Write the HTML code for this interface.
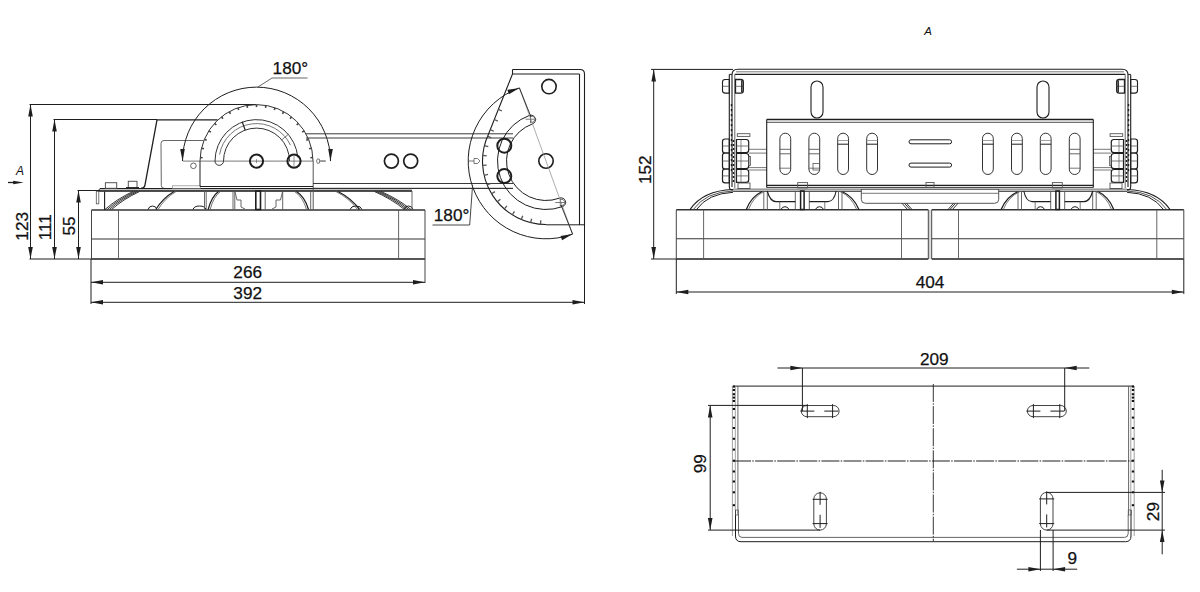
<!DOCTYPE html>
<html><head><meta charset="utf-8"><style>
html,body{margin:0;padding:0;background:#fff;}
svg{display:block;font-family:"Liberation Sans",sans-serif;}
</style></head><body>
<svg width="1200" height="592" viewBox="0 0 1200 592">
<rect width="1200" height="592" fill="#fff"/>
<line x1="30.5" y1="104.5" x2="30.5" y2="259" stroke="#1e1e1e" stroke-width="1" />
<polygon points="30.5,104.5 32.8,116.5 28.2,116.5" fill="#1e1e1e"/>
<polygon points="30.5,259 28.2,247 32.8,247" fill="#1e1e1e"/>
<line x1="54.5" y1="119.5" x2="54.5" y2="259" stroke="#1e1e1e" stroke-width="1" />
<polygon points="54.5,119.5 56.8,131.5 52.2,131.5" fill="#1e1e1e"/>
<polygon points="54.5,259 52.2,247 56.8,247" fill="#1e1e1e"/>
<line x1="78.5" y1="190.5" x2="78.5" y2="259" stroke="#1e1e1e" stroke-width="1" />
<polygon points="78.5,190.5 80.8,202.5 76.2,202.5" fill="#1e1e1e"/>
<polygon points="78.5,259 76.2,247 80.8,247" fill="#1e1e1e"/>
<line x1="29.5" y1="104.5" x2="256" y2="104.5" stroke="#1e1e1e" stroke-width="1" />
<line x1="53.5" y1="119.5" x2="157" y2="119.5" stroke="#1e1e1e" stroke-width="1" />
<line x1="77.5" y1="190.5" x2="100" y2="190.5" stroke="#1e1e1e" stroke-width="1" />
<line x1="29.5" y1="259" x2="92" y2="259" stroke="#1e1e1e" stroke-width="1" />
<text x="28" y="226.3" font-size="17.2" text-anchor="middle" fill="#111" stroke="#111" stroke-width="0.25" style="" transform="rotate(-90 28 226.3)">123</text>
<text x="51" y="227.2" font-size="17.2" text-anchor="middle" fill="#111" stroke="#111" stroke-width="0.25" style="" transform="rotate(-90 51 227.2)">111</text>
<text x="75" y="226" font-size="17.2" text-anchor="middle" fill="#111" stroke="#111" stroke-width="0.25" style="" transform="rotate(-90 75 226)">55</text>
<text x="16" y="174.7" font-size="12" text-anchor="start" fill="#111" stroke="#111" stroke-width="0" style="font-style:italic;">A</text>
<line x1="8" y1="182.5" x2="14" y2="182.5" stroke="#1e1e1e" stroke-width="1.3" />
<polygon points="23.7,182.5 13.2,184.3 13.2,180.7" fill="#1e1e1e"/>
<line x1="91.5" y1="210" x2="425" y2="210" stroke="#333" stroke-width="1.4" />
<line x1="91.5" y1="239" x2="425" y2="239" stroke="#333" stroke-width="1.1" />
<line x1="91.5" y1="259" x2="425" y2="259" stroke="#1e1e1e" stroke-width="1.4" />
<line x1="91.5" y1="210" x2="91.5" y2="259" stroke="#444" stroke-width="1" />
<line x1="425" y1="210" x2="425" y2="283" stroke="#444" stroke-width="1" />
<line x1="118.5" y1="210" x2="118.5" y2="259" stroke="#555" stroke-width="0.9" />
<line x1="398.6" y1="210" x2="398.6" y2="259" stroke="#555" stroke-width="0.9" />
<line x1="91" y1="259" x2="91" y2="304" stroke="#1e1e1e" stroke-width="1" />
<line x1="584.5" y1="225" x2="584.5" y2="304" stroke="#1e1e1e" stroke-width="1" />
<line x1="91" y1="282.3" x2="425" y2="282.3" stroke="#1e1e1e" stroke-width="1" />
<polygon points="91,282.3 103,280 103,284.6" fill="#1e1e1e"/>
<polygon points="425,282.3 413,284.6 413,280" fill="#1e1e1e"/>
<line x1="91" y1="302.3" x2="584.5" y2="302.3" stroke="#1e1e1e" stroke-width="1" />
<polygon points="91,302.3 103,300 103,304.6" fill="#1e1e1e"/>
<polygon points="584.5,302.3 572.5,304.6 572.5,300" fill="#1e1e1e"/>
<text x="247.7" y="278.4" font-size="17.2" text-anchor="middle" fill="#111" stroke="#111" stroke-width="0.25" style="">266</text>
<text x="247.7" y="298.8" font-size="17.2" text-anchor="middle" fill="#111" stroke="#111" stroke-width="0.25" style="">392</text>
<path d="M157 119.8 L217.6 119.8" stroke="#1e1e1e" stroke-width="1.2" fill="none" />
<path d="M157 119.8 L144.9 185.3 Q144.4 188.2 141 188.4" stroke="#1e1e1e" stroke-width="1.3" fill="none" />
<path d="M203.5 140.5 L164 140.5 Q161 140.5 161 143.5 L161.3 185.5 Q161.3 188.3 164.3 188.4" stroke="#555" stroke-width="0.9" fill="none" />
<circle cx="193.4" cy="165.8" r="2.8" stroke="#555" stroke-width="0.9" fill="none"/>
<rect x="100" y="188.5" width="312" height="3" rx="0" stroke="#1e1e1e" stroke-width="0" fill="#c4c4c4"/>
<line x1="100" y1="188.5" x2="513" y2="188.5" stroke="#1e1e1e" stroke-width="1.1" />
<line x1="98" y1="191" x2="412" y2="191" stroke="#1e1e1e" stroke-width="1.3" />
<path d="M98 191 L100 188.5" stroke="#1e1e1e" stroke-width="1" fill="none" />
<rect x="105.4" y="182.7" width="11.3" height="5.6" rx="0" stroke="#555" stroke-width="1" fill="none"/>
<rect x="128.3" y="181.3" width="8.7" height="7" rx="0" stroke="#555" stroke-width="1" fill="none"/>
<line x1="126" y1="188" x2="139" y2="188" stroke="#1e1e1e" stroke-width="1.8" />
<rect x="96.3" y="191.3" width="2.5" height="12.5" rx="0" stroke="#555" stroke-width="0.8" fill="none"/>
<line x1="104.6" y1="191.5" x2="104.6" y2="210" stroke="#1e1e1e" stroke-width="1.1" />
<rect x="172.5" y="185.8" width="28" height="2.5" rx="0" stroke="#8a8a8a" stroke-width="0.7" fill="none"/>
<path d="M200 161.1 A56.5 56.5 0 0 1 313 161.1" stroke="#333" stroke-width="1" fill="none" />
<line x1="200.11" y1="157.55" x2="202.61" y2="157.71" stroke="#444" stroke-width="1.6" />
<line x1="201.49" y1="148.2" x2="203.93" y2="148.77" stroke="#444" stroke-width="1.6" />
<line x1="204.41" y1="139.21" x2="206.72" y2="140.17" stroke="#444" stroke-width="1.6" />
<line x1="208.8" y1="130.83" x2="210.91" y2="132.17" stroke="#444" stroke-width="1.6" />
<line x1="214.51" y1="123.29" x2="216.37" y2="124.97" stroke="#444" stroke-width="1.6" />
<line x1="221.41" y1="116.82" x2="222.96" y2="118.78" stroke="#444" stroke-width="1.6" />
<line x1="229.28" y1="111.59" x2="230.49" y2="113.78" stroke="#444" stroke-width="1.6" />
<line x1="237.92" y1="107.74" x2="238.74" y2="110.1" stroke="#444" stroke-width="1.6" />
<line x1="247.08" y1="105.39" x2="247.49" y2="107.86" stroke="#444" stroke-width="1.6" />
<line x1="256.5" y1="104.6" x2="256.5" y2="107.1" stroke="#444" stroke-width="1.6" />
<line x1="265.92" y1="105.39" x2="265.51" y2="107.86" stroke="#444" stroke-width="1.6" />
<line x1="275.08" y1="107.74" x2="274.26" y2="110.1" stroke="#444" stroke-width="1.6" />
<line x1="283.72" y1="111.59" x2="282.51" y2="113.78" stroke="#444" stroke-width="1.6" />
<line x1="291.59" y1="116.82" x2="290.04" y2="118.78" stroke="#444" stroke-width="1.6" />
<line x1="298.49" y1="123.29" x2="296.63" y2="124.97" stroke="#444" stroke-width="1.6" />
<line x1="304.2" y1="130.83" x2="302.09" y2="132.17" stroke="#444" stroke-width="1.6" />
<line x1="308.59" y1="139.21" x2="306.28" y2="140.17" stroke="#444" stroke-width="1.6" />
<line x1="311.51" y1="148.2" x2="309.07" y2="148.77" stroke="#444" stroke-width="1.6" />
<line x1="312.89" y1="157.55" x2="310.39" y2="157.71" stroke="#444" stroke-width="1.6" />
<line x1="200" y1="161" x2="200" y2="186.5" stroke="#1e1e1e" stroke-width="1" />
<line x1="313.2" y1="161" x2="313.2" y2="210" stroke="#555" stroke-width="1" />
<line x1="200" y1="186.5" x2="313" y2="186.5" stroke="#1e1e1e" stroke-width="1" />
<line x1="183" y1="161.1" x2="313" y2="161.1" stroke="#555" stroke-width="0.8" />
<path d="M214.5 161.1 A42 42 0 0 1 298.5 161.1 A4.5 4.5 0 0 1 289.5 161.1" stroke="none" stroke-width="0.01" fill="none" />
<path d="M215 161.1 A41.5 41.5 0 0 1 297.84 157.48 M289.5 161.1 A33 33 0 0 0 223.5 161.1 A4.25 4.25 0 0 1 215 161.1" stroke="#333" stroke-width="1" fill="none" />
<path d="M219.57 154.59 A37.5 37.5 0 0 1 290.49 145.25" stroke="#555" stroke-width="0.8" fill="none" />
<line x1="245.21" y1="130.09" x2="242.14" y2="121.63" stroke="#1e1e1e" stroke-width="1.2" />
<line x1="281.78" y1="139.89" x2="288.67" y2="134.1" stroke="#555" stroke-width="0.8" />
<circle cx="256.5" cy="161.1" r="6.6" stroke="#1e1e1e" stroke-width="2" fill="none"/>
<circle cx="294" cy="161.1" r="6.6" stroke="#1e1e1e" stroke-width="2" fill="none"/>
<line x1="256.5" y1="159.1" x2="256.5" y2="163.1" stroke="#555" stroke-width="0.6" />
<line x1="294" y1="155.1" x2="294" y2="167.1" stroke="#555" stroke-width="0.6" />
<path d="M182.5 161.1 A74 74 0 0 1 330.5 161.1" stroke="#1e1e1e" stroke-width="1" fill="none" />
<polygon points="182.5,161.1 180.2,149.1 184.8,149.1" fill="#1e1e1e"/>
<polygon points="330.5,161.1 328.2,149.1 332.8,149.1" fill="#1e1e1e"/>
<polyline points="257.5,87.3 272,78 307.5,78" stroke="#555" stroke-width="0.9" fill="none"/>
<text x="272.6" y="73.6" font-size="17.2" text-anchor="start" fill="#111" stroke="#111" stroke-width="0.25" style="">180°</text>
<path d="M325.6 161.1 L319.5 161.1 M319.5 159.29999999999998 L317.5 158.79999999999998 Q315.5 161.1 317.5 163.4 L319.5 162.9 Z" stroke="#555" stroke-width="0.8" fill="none" />
<line x1="319.5" y1="161.1" x2="325.6" y2="161.1" stroke="#999" stroke-width="1.8" />
<line x1="306" y1="133.8" x2="513" y2="133.8" stroke="#3a3a3a" stroke-width="1" />
<line x1="306" y1="138" x2="513" y2="138" stroke="#3a3a3a" stroke-width="1" />
<line x1="313" y1="183.5" x2="513" y2="183.5" stroke="#3a3a3a" stroke-width="1" />
<line x1="313" y1="188.3" x2="513" y2="188.3" stroke="#3a3a3a" stroke-width="1" />
<circle cx="391.4" cy="161.1" r="7" stroke="#1e1e1e" stroke-width="1.7" fill="none"/>
<circle cx="410.7" cy="161.1" r="7" stroke="#1e1e1e" stroke-width="1.7" fill="none"/>
<path d="M105 209.5 Q116.76 199.06 133 191.5" stroke="#1e1e1e" stroke-width="0.9" fill="none" />
<path d="M107.2 209.5 Q118.96 199.06 135.2 191.5" stroke="#1e1e1e" stroke-width="0.9" fill="none" />
<path d="M109.4 209.5 Q121.16 199.06 137.4 191.5" stroke="#1e1e1e" stroke-width="0.9" fill="none" />
<path d="M111.6 209.5 Q123.36 199.06 139.6 191.5" stroke="#1e1e1e" stroke-width="0.9" fill="none" />
<path d="M155.8 209.5 Q162.72 198.34 174 191.5" stroke="#1e1e1e" stroke-width="1.2" fill="none" />
<path d="M158 209.5 Q164.84 198.34 176 191.5" stroke="#555" stroke-width="0.8" fill="none" />
<path d="M148 209.5 Q149 206 152.5 206 Q156 206 157 209.5" stroke="#1e1e1e" stroke-width="1" fill="none" />
<path d="M193 209.5 Q194 206 199.5 206 Q205 206 206 209.5" stroke="#1e1e1e" stroke-width="1" fill="none" />
<path d="M350 209.5 Q351 206 356 206 Q361 206 362 209.5" stroke="#1e1e1e" stroke-width="1" fill="none" />
<path d="M404 209.5 Q405 206 408.5 206 Q412 206 413 209.5" stroke="#1e1e1e" stroke-width="1" fill="none" />
<path d="M208.2 209.5 Q211.29 196.9 218.5 191.5" stroke="#1e1e1e" stroke-width="1.3" fill="none" />
<path d="M210.2 209.5 Q213.29 196.9 220.5 191.5" stroke="#555" stroke-width="0.8" fill="none" />
<path d="M308.5 209.5 Q304.9 196.9 296.5 191.5" stroke="#1e1e1e" stroke-width="1.3" fill="none" />
<path d="M306.5 209.5 Q302.9 196.9 294.5 191.5" stroke="#555" stroke-width="0.8" fill="none" />
<path d="M359.5 209.5 Q351.33 198.34 338 191.5" stroke="#1e1e1e" stroke-width="1.3" fill="none" />
<path d="M357.5 209.5 Q349.33 198.34 336 191.5" stroke="#555" stroke-width="0.8" fill="none" />
<path d="M411 209.5 Q398.4 199.06 381 191.5" stroke="#1e1e1e" stroke-width="0.9" fill="none" />
<path d="M408.8 209.5 Q396.2 199.06 378.8 191.5" stroke="#1e1e1e" stroke-width="0.9" fill="none" />
<path d="M406.6 209.5 Q394 199.06 376.6 191.5" stroke="#1e1e1e" stroke-width="0.9" fill="none" />
<path d="M404.4 209.5 Q391.8 199.06 374.4 191.5" stroke="#1e1e1e" stroke-width="0.9" fill="none" />
<line x1="204.5" y1="191" x2="204.5" y2="209.5" stroke="#555" stroke-width="0.9" />
<line x1="206.2" y1="191" x2="206.2" y2="209.5" stroke="#555" stroke-width="0.9" />
<line x1="233" y1="191" x2="233" y2="209.5" stroke="#555" stroke-width="0.9" />
<line x1="234.8" y1="191" x2="234.8" y2="209.5" stroke="#555" stroke-width="0.9" />
<line x1="265.2" y1="191" x2="265.2" y2="209.5" stroke="#555" stroke-width="0.9" />
<line x1="282.7" y1="191" x2="282.7" y2="209.5" stroke="#555" stroke-width="0.9" />
<line x1="310.7" y1="191" x2="310.7" y2="209.5" stroke="#555" stroke-width="0.9" />
<line x1="412" y1="191" x2="412" y2="209.5" stroke="#555" stroke-width="0.9" />
<rect x="255.8" y="191" width="4.7" height="18.5" rx="0" stroke="#1e1e1e" stroke-width="1.6" fill="none"/>
<path d="M234.8 191 L237 200 L241 200 L241 207 L245 209" stroke="#555" stroke-width="0.9" fill="none" />
<path d="M282.7 191 L280.5 200 L276 200 L276 207 L272 209" stroke="#555" stroke-width="0.9" fill="none" />
<path d="M512.5 69.5 L580 69.5 Q584.5 69.5 584.5 74" stroke="#1e1e1e" stroke-width="1.1" fill="none" />
<line x1="512.5" y1="74" x2="579.5" y2="74" stroke="#1e1e1e" stroke-width="1.1" />
<line x1="512.5" y1="69.5" x2="512.5" y2="74" stroke="#1e1e1e" stroke-width="1.1" />
<line x1="579.5" y1="74" x2="579.5" y2="225" stroke="#1e1e1e" stroke-width="1.1" />
<line x1="584.5" y1="74" x2="584.5" y2="226" stroke="#1e1e1e" stroke-width="1.1" />
<line x1="546" y1="224.8" x2="584.5" y2="224.8" stroke="#1e1e1e" stroke-width="1" />
<path d="M512.5 74 L488.22 134.67 A63.5 63.5 0 0 0 546 224.5" stroke="#1e1e1e" stroke-width="1.1" fill="none" />
<line x1="540.47" y1="224.26" x2="540.81" y2="220.27" stroke="#555" stroke-width="1.3" />
<line x1="530.64" y1="222.61" x2="531.61" y2="218.73" stroke="#555" stroke-width="1.3" />
<line x1="521.19" y1="219.45" x2="522.75" y2="215.77" stroke="#555" stroke-width="1.3" />
<line x1="512.35" y1="214.85" x2="514.47" y2="211.46" stroke="#555" stroke-width="1.3" />
<line x1="504.34" y1="208.92" x2="506.96" y2="205.91" stroke="#555" stroke-width="1.3" />
<line x1="497.36" y1="201.82" x2="500.42" y2="199.25" stroke="#555" stroke-width="1.3" />
<line x1="491.57" y1="193.7" x2="495" y2="191.64" stroke="#555" stroke-width="1.3" />
<line x1="487.12" y1="184.79" x2="490.83" y2="183.29" stroke="#555" stroke-width="1.3" />
<line x1="484.13" y1="175.28" x2="488.02" y2="174.38" stroke="#555" stroke-width="1.3" />
<line x1="482.65" y1="165.43" x2="486.64" y2="165.15" stroke="#555" stroke-width="1.3" />
<line x1="482.74" y1="155.47" x2="486.73" y2="155.81" stroke="#555" stroke-width="1.3" />
<line x1="484.39" y1="145.64" x2="488.27" y2="146.61" stroke="#555" stroke-width="1.3" />
<line x1="487.55" y1="136.19" x2="491.23" y2="137.75" stroke="#555" stroke-width="1.3" />
<line x1="498.34" y1="109.37" x2="501.94" y2="110.97" stroke="#555" stroke-width="1.3" />
<line x1="494.29" y1="119.5" x2="497.89" y2="121.1" stroke="#555" stroke-width="1.3" />
<line x1="490.23" y1="129.63" x2="493.83" y2="131.23" stroke="#555" stroke-width="1.3" />
<path d="M529.41 115.42 A48.5 48.5 0 0 0 562.59 206.58 A4.5 4.5 0 0 0 559.51 198.12 A39.5 39.5 0 0 1 532.49 123.88 A4.5 4.5 0 0 0 529.41 115.42" stroke="#1e1e1e" stroke-width="1" fill="none" />
<line x1="525.5" y1="119.2" x2="535.5" y2="119.2" stroke="#555" stroke-width="0.8" />
<line x1="530.5" y1="115.2" x2="530.5" y2="123.2" stroke="#555" stroke-width="0.8" />
<path d="M530.5 116.2 L533 116.2 L536 119.2 L533 122.2 L530.5 122.2" stroke="#555" stroke-width="0.8" fill="none" />
<line x1="555.3" y1="202.5" x2="565.3" y2="202.5" stroke="#555" stroke-width="0.8" />
<line x1="560.3" y1="198.5" x2="560.3" y2="206.5" stroke="#555" stroke-width="0.8" />
<path d="M560.3 199.5 L562.8 199.5 L565.8 202.5 L562.8 205.5 L560.3 205.5" stroke="#555" stroke-width="0.8" fill="none" />
<circle cx="504.3" cy="145.7" r="7" stroke="#1e1e1e" stroke-width="2" fill="none"/>
<circle cx="504.3" cy="176.1" r="7" stroke="#1e1e1e" stroke-width="2" fill="none"/>
<circle cx="546" cy="161" r="7.2" stroke="#1e1e1e" stroke-width="1.6" fill="none"/>
<circle cx="549" cy="86.6" r="7.2" stroke="#1e1e1e" stroke-width="1.6" fill="none"/>
<path d="M519.39 87.89 A77.8 77.8 0 0 0 572.61 234.11" stroke="#1e1e1e" stroke-width="1" fill="none" />
<polygon points="519.39,87.89 508.9,94.16 507.33,89.83" fill="#1e1e1e"/>
<polygon points="572.61,234.11 562.12,240.37 560.55,236.05" fill="#1e1e1e"/>
<line x1="519.39" y1="87.89" x2="572.61" y2="234.11" stroke="#8a8a8a" stroke-width="0.7" />
<line x1="519.39" y1="87.89" x2="531" y2="117" stroke="#1e1e1e" stroke-width="0.9" />
<line x1="561" y1="205" x2="572.61" y2="234.11" stroke="#1e1e1e" stroke-width="0.9" />
<line x1="468" y1="161" x2="474" y2="161" stroke="#555" stroke-width="0.8" />
<path d="M474 158.5 L477.5 158.5 L480 161 L477.5 163.5 L474 163.5 Z" stroke="#555" stroke-width="0.8" fill="none" />
<polyline points="432.5,225 469.7,225 472.6,185" stroke="#333" stroke-width="0.9" fill="none"/>
<text x="451.6" y="221.3" font-size="17.2" text-anchor="middle" fill="#111" stroke="#111" stroke-width="0.25" style="">180°</text>
<line x1="653.7" y1="69.5" x2="653.7" y2="259" stroke="#1e1e1e" stroke-width="1" />
<polygon points="653.7,69.5 656,81.5 651.4,81.5" fill="#1e1e1e"/>
<polygon points="653.7,259 651.4,247 656,247" fill="#1e1e1e"/>
<line x1="651" y1="69.4" x2="733" y2="69.4" stroke="#1e1e1e" stroke-width="1" />
<line x1="651" y1="259" x2="677" y2="259" stroke="#1e1e1e" stroke-width="1" />
<text x="651" y="169.7" font-size="17.2" text-anchor="middle" fill="#111" stroke="#111" stroke-width="0.25" style="" transform="rotate(-90 651 169.7)">152</text>
<line x1="676.3" y1="259" x2="676.3" y2="294" stroke="#1e1e1e" stroke-width="1" />
<line x1="1183.8" y1="259" x2="1183.8" y2="294" stroke="#1e1e1e" stroke-width="1" />
<line x1="676.3" y1="292" x2="1183.8" y2="292" stroke="#1e1e1e" stroke-width="1" />
<polygon points="676.3,292 688.3,289.7 688.3,294.3" fill="#1e1e1e"/>
<polygon points="1183.8,292 1171.8,294.3 1171.8,289.7" fill="#1e1e1e"/>
<text x="930" y="287.8" font-size="17.2" text-anchor="middle" fill="#111" stroke="#111" stroke-width="0.25" style="">404</text>
<line x1="676.3" y1="209.8" x2="928.3" y2="209.8" stroke="#333" stroke-width="1.4" />
<line x1="676.3" y1="238.8" x2="928.3" y2="238.8" stroke="#333" stroke-width="1.1" />
<line x1="676.3" y1="259" x2="928.3" y2="259" stroke="#1e1e1e" stroke-width="1.4" />
<line x1="676.3" y1="209.8" x2="676.3" y2="259" stroke="#444" stroke-width="1" />
<line x1="928.3" y1="209.8" x2="928.3" y2="259" stroke="#444" stroke-width="1" />
<line x1="931.7" y1="209.8" x2="1183.8" y2="209.8" stroke="#333" stroke-width="1.4" />
<line x1="931.7" y1="238.8" x2="1183.8" y2="238.8" stroke="#333" stroke-width="1.1" />
<line x1="931.7" y1="259" x2="1183.8" y2="259" stroke="#1e1e1e" stroke-width="1.4" />
<line x1="931.7" y1="209.8" x2="931.7" y2="259" stroke="#444" stroke-width="1" />
<line x1="1183.8" y1="209.8" x2="1183.8" y2="259" stroke="#444" stroke-width="1" />
<line x1="703.6" y1="209.8" x2="703.6" y2="259" stroke="#555" stroke-width="0.9" />
<line x1="901.5" y1="209.8" x2="901.5" y2="259" stroke="#555" stroke-width="0.9" />
<line x1="958.5" y1="209.8" x2="958.5" y2="259" stroke="#555" stroke-width="0.9" />
<line x1="1156.8" y1="209.8" x2="1156.8" y2="259" stroke="#555" stroke-width="0.9" />
<line x1="929.9" y1="209.8" x2="929.9" y2="259" stroke="#8a8a8a" stroke-width="0.7" />
<path d="M930 69.3 L737.8 69.3 Q732 69.3 732 75 L732 187" stroke="#1e1e1e" stroke-width="1.1" fill="none" />
<path d="M729.3 74.4 L729.3 186.5 Q729.3 190.3 733.5 190.3" stroke="#1e1e1e" stroke-width="1.1" fill="none" />
<line x1="729.3" y1="74.4" x2="732" y2="74.4" stroke="#1e1e1e" stroke-width="1" />
<line x1="734.8" y1="74.4" x2="930" y2="74.4" stroke="#1e1e1e" stroke-width="1.1" />
<line x1="734.8" y1="74.4" x2="734.8" y2="188" stroke="#555" stroke-width="0.9" />
<line x1="736" y1="71.8" x2="930" y2="71.8" stroke="#555" stroke-width="0.8" />
<line x1="731.5" y1="104" x2="731.5" y2="106.2" stroke="#1e1e1e" stroke-width="1.4" />
<line x1="731.5" y1="109" x2="731.5" y2="111.2" stroke="#1e1e1e" stroke-width="1.4" />
<line x1="731.5" y1="114" x2="731.5" y2="116.2" stroke="#1e1e1e" stroke-width="1.4" />
<line x1="731.5" y1="119" x2="731.5" y2="121.2" stroke="#1e1e1e" stroke-width="1.4" />
<line x1="731.5" y1="124" x2="731.5" y2="126.2" stroke="#1e1e1e" stroke-width="1.4" />
<line x1="731.5" y1="129" x2="731.5" y2="131.2" stroke="#1e1e1e" stroke-width="1.4" />
<line x1="731.5" y1="134" x2="731.5" y2="136.2" stroke="#1e1e1e" stroke-width="1.4" />
<line x1="731.5" y1="139" x2="731.5" y2="141.2" stroke="#1e1e1e" stroke-width="1.4" />
<line x1="731.5" y1="144" x2="731.5" y2="146.2" stroke="#1e1e1e" stroke-width="1.4" />
<line x1="731.5" y1="149" x2="731.5" y2="151.2" stroke="#1e1e1e" stroke-width="1.4" />
<line x1="731.5" y1="154" x2="731.5" y2="156.2" stroke="#1e1e1e" stroke-width="1.4" />
<line x1="731.5" y1="159" x2="731.5" y2="161.2" stroke="#1e1e1e" stroke-width="1.4" />
<line x1="731.5" y1="164" x2="731.5" y2="166.2" stroke="#1e1e1e" stroke-width="1.4" />
<line x1="731.5" y1="169" x2="731.5" y2="171.2" stroke="#1e1e1e" stroke-width="1.4" />
<rect x="811" y="81" width="12" height="37" rx="6" stroke="#1e1e1e" stroke-width="1.1" fill="none"/>
<path d="M729.3 79.5 L725.1 79.5 Q722.5 79.5 722.5 82.1 L722.5 90.5 Q722.5 93.1 725.1 93.1 L729.3 93.1 Z" stroke="#1e1e1e" stroke-width="1.1" fill="none" />
<line x1="722.5" y1="86.3" x2="729.3" y2="86.3" stroke="#555" stroke-width="0.8" />
<path d="M735.5 79.5 L740.7 79.5 Q743.3 79.5 743.3 82.1 L743.3 90.5 Q743.3 93.1 740.7 93.1 L735.5 93.1 Z" stroke="#1e1e1e" stroke-width="1.3" fill="none" />
<line x1="735.5" y1="86.3" x2="743.3" y2="86.3" stroke="#555" stroke-width="0.8" />
<line x1="741.8" y1="80.5" x2="741.8" y2="92" stroke="#1e1e1e" stroke-width="1.4" />
<path d="M729.3 139 L725.1 139 Q722.5 139 722.5 141.6 L722.5 150.4 Q722.5 153 725.1 153 L729.3 153 Z" stroke="#1e1e1e" stroke-width="1.2" fill="none" />
<line x1="722.5" y1="146" x2="729.3" y2="146" stroke="#555" stroke-width="0.8" />
<path d="M736.5 139.5 L746.1 139.5 Q748.7 139.5 748.7 142.1 L748.7 149.9 Q748.7 152.5 746.1 152.5 L736.5 152.5 Z" stroke="#1e1e1e" stroke-width="1.2" fill="none" />
<line x1="736.5" y1="146" x2="748.7" y2="146" stroke="#555" stroke-width="0.8" />
<line x1="741" y1="140" x2="741" y2="152" stroke="#555" stroke-width="0.7" />
<path d="M729.3 153 L725.1 153 Q722.5 153 722.5 155.6 L722.5 166.4 Q722.5 169 725.1 169 L729.3 169 Z" stroke="#1e1e1e" stroke-width="1.2" fill="none" />
<line x1="722.5" y1="161" x2="729.3" y2="161" stroke="#555" stroke-width="0.8" />
<path d="M736.5 153.5 L746.1 153.5 Q748.7 153.5 748.7 156.1 L748.7 165.9 Q748.7 168.5 746.1 168.5 L736.5 168.5 Z" stroke="#1e1e1e" stroke-width="1.2" fill="none" />
<line x1="736.5" y1="161" x2="748.7" y2="161" stroke="#555" stroke-width="0.8" />
<line x1="741" y1="154" x2="741" y2="168" stroke="#555" stroke-width="0.7" />
<path d="M729.3 169 L725.1 169 Q722.5 169 722.5 171.6 L722.5 180.2 Q722.5 182.8 725.1 182.8 L729.3 182.8 Z" stroke="#1e1e1e" stroke-width="1.2" fill="none" />
<line x1="722.5" y1="175.9" x2="729.3" y2="175.9" stroke="#555" stroke-width="0.8" />
<path d="M736.5 169.5 L746.1 169.5 Q748.7 169.5 748.7 172.1 L748.7 179.7 Q748.7 182.3 746.1 182.3 L736.5 182.3 Z" stroke="#1e1e1e" stroke-width="1.2" fill="none" />
<line x1="736.5" y1="175.9" x2="748.7" y2="175.9" stroke="#555" stroke-width="0.8" />
<line x1="741" y1="170" x2="741" y2="181.8" stroke="#555" stroke-width="0.7" />
<rect x="748.7" y="156.5" width="1.8" height="9" rx="0" stroke="#555" stroke-width="0.8" fill="none"/>
<line x1="733.5" y1="140" x2="733.5" y2="142" stroke="#1e1e1e" stroke-width="1.5" />
<line x1="733.5" y1="144" x2="733.5" y2="146" stroke="#1e1e1e" stroke-width="1.5" />
<line x1="733.5" y1="148" x2="733.5" y2="150" stroke="#1e1e1e" stroke-width="1.5" />
<line x1="733.5" y1="152" x2="733.5" y2="154" stroke="#1e1e1e" stroke-width="1.5" />
<line x1="733.5" y1="156" x2="733.5" y2="158" stroke="#1e1e1e" stroke-width="1.5" />
<line x1="733.5" y1="160" x2="733.5" y2="162" stroke="#1e1e1e" stroke-width="1.5" />
<line x1="733.5" y1="164" x2="733.5" y2="166" stroke="#1e1e1e" stroke-width="1.5" />
<line x1="733.5" y1="168" x2="733.5" y2="170" stroke="#1e1e1e" stroke-width="1.5" />
<line x1="733.5" y1="172" x2="733.5" y2="174" stroke="#1e1e1e" stroke-width="1.5" />
<line x1="733.5" y1="176" x2="733.5" y2="178" stroke="#1e1e1e" stroke-width="1.5" />
<line x1="733.5" y1="180" x2="733.5" y2="182" stroke="#1e1e1e" stroke-width="1.5" />
<rect x="737.3" y="133.7" width="12.6" height="2.7" rx="0" stroke="#555" stroke-width="0.9" fill="none"/>
<rect x="738" y="183" width="12" height="5.5" rx="0" stroke="#555" stroke-width="0.9" fill="none"/>
<line x1="749" y1="149.3" x2="766.7" y2="149.3" stroke="#555" stroke-width="0.8" />
<line x1="749" y1="153.1" x2="766.7" y2="153.1" stroke="#555" stroke-width="0.8" />
<line x1="749" y1="167.6" x2="766.7" y2="167.6" stroke="#555" stroke-width="0.8" />
<line x1="749" y1="170" x2="766.7" y2="170" stroke="#555" stroke-width="0.8" />
<line x1="766.7" y1="119.5" x2="930" y2="119.5" stroke="#1e1e1e" stroke-width="1.3" />
<line x1="766.7" y1="122.3" x2="930" y2="122.3" stroke="#1e1e1e" stroke-width="0.8" />
<line x1="766.7" y1="185.3" x2="930" y2="185.3" stroke="#1e1e1e" stroke-width="1.2" />
<line x1="766.7" y1="187.4" x2="930" y2="187.4" stroke="#1e1e1e" stroke-width="0.9" />
<line x1="766.7" y1="119.5" x2="766.7" y2="187.4" stroke="#1e1e1e" stroke-width="1.1" />
<rect x="779.9" y="133.2" width="10.8" height="41.3" rx="5.4" stroke="#333" stroke-width="1" fill="none"/>
<rect x="808.9" y="133.2" width="10.8" height="41.3" rx="5.4" stroke="#333" stroke-width="1" fill="none"/>
<rect x="837.7" y="133.2" width="10.8" height="41.3" rx="5.4" stroke="#333" stroke-width="1" fill="none"/>
<rect x="866.7" y="133.2" width="10.8" height="41.3" rx="5.4" stroke="#333" stroke-width="1" fill="none"/>
<rect x="797.7" y="182.6" width="9.9" height="5.3" rx="0" stroke="#555" stroke-width="0.9" fill="none"/>
<line x1="733" y1="189.3" x2="861.3" y2="189.3" stroke="#1e1e1e" stroke-width="1.1" />
<line x1="733" y1="191" x2="861.3" y2="191" stroke="#1e1e1e" stroke-width="1.3" />
<rect x="733" y="189.3" width="128.3" height="1.7" rx="0" stroke="#1e1e1e" stroke-width="0" fill="#bbb"/>
<path d="M690 209.5 Q703 190.5 733 189.5" stroke="#1e1e1e" stroke-width="1.2" fill="none" />
<path d="M693.3 209.5 Q705.5 192 733 191" stroke="#555" stroke-width="1" fill="none" />
<path d="M696.5 209.5 Q708 193.5 733 192.3" stroke="#1e1e1e" stroke-width="1" fill="none" />
<path d="M746.3 209.5 Q751.01 196.9 762 191.5" stroke="#1e1e1e" stroke-width="1.3" fill="none" />
<path d="M748.5 209.5 Q753.15 196.9 764 191.5" stroke="#555" stroke-width="0.8" fill="none" />
<path d="M858.9 209.5 Q853.83 196.9 842 191.5" stroke="#1e1e1e" stroke-width="1.3" fill="none" />
<path d="M856.7 209.5 Q851.69 196.9 840 191.5" stroke="#555" stroke-width="0.8" fill="none" />
<line x1="763.8" y1="191" x2="763.8" y2="209.5" stroke="#555" stroke-width="0.9" />
<line x1="767.3" y1="191" x2="767.3" y2="209.5" stroke="#555" stroke-width="0.9" />
<line x1="795.3" y1="191" x2="795.3" y2="209.5" stroke="#555" stroke-width="0.9" />
<line x1="809.3" y1="191" x2="809.3" y2="209.5" stroke="#555" stroke-width="0.9" />
<line x1="838.5" y1="191" x2="838.5" y2="209.5" stroke="#555" stroke-width="0.9" />
<line x1="842" y1="191" x2="842" y2="209.5" stroke="#555" stroke-width="0.9" />
<rect x="800.6" y="191" width="3.5" height="18.5" rx="0" stroke="#1e1e1e" stroke-width="1.5" fill="none"/>
<path d="M767.3 191 Q770 201.6 776 201.6 L795.3 201.6" stroke="#1e1e1e" stroke-width="1.1" fill="none" />
<path d="M836.2 191 Q834 201.6 828 201.6 L809.3 201.6" stroke="#1e1e1e" stroke-width="1.1" fill="none" />
<line x1="779.8" y1="201.6" x2="779.8" y2="209.5" stroke="#555" stroke-width="0.8" />
<line x1="824.8" y1="201.6" x2="824.8" y2="209.5" stroke="#555" stroke-width="0.8" />
<path d="M781 209.5 Q782 206.7 785 206.7 Q788 206.7 789 209.5" stroke="#1e1e1e" stroke-width="1" fill="none" />
<path d="M815.5 209.5 Q816.5 206.7 819.5 206.7 Q822.5 206.7 823.5 209.5" stroke="#1e1e1e" stroke-width="1" fill="none" />
<path d="M861.3 189 L861.3 199.3 Q861.3 203.3 865.3 203.3 L930 203.3" stroke="#555" stroke-width="1" fill="none" />
<line x1="861.3" y1="193.3" x2="930" y2="193.3" stroke="#555" stroke-width="0.8" />
<line x1="861.3" y1="189.2" x2="930" y2="189.2" stroke="#333" stroke-width="1" />
<line x1="902" y1="203.3" x2="907.5" y2="209.5" stroke="#1e1e1e" stroke-width="0.9" />
<line x1="904.5" y1="203.3" x2="910" y2="209.5" stroke="#1e1e1e" stroke-width="0.9" />
<line x1="906.5" y1="203.3" x2="912" y2="209.5" stroke="#1e1e1e" stroke-width="0.9" />
<g transform="translate(1860,0) scale(-1,1)"><path d="M930 69.3 L737.8 69.3 Q732 69.3 732 75 L732 187" stroke="#1e1e1e" stroke-width="1.1" fill="none" /><path d="M729.3 74.4 L729.3 186.5 Q729.3 190.3 733.5 190.3" stroke="#1e1e1e" stroke-width="1.1" fill="none" /><line x1="729.3" y1="74.4" x2="732" y2="74.4" stroke="#1e1e1e" stroke-width="1" /><line x1="734.8" y1="74.4" x2="930" y2="74.4" stroke="#1e1e1e" stroke-width="1.1" /><line x1="734.8" y1="74.4" x2="734.8" y2="188" stroke="#555" stroke-width="0.9" /><line x1="736" y1="71.8" x2="930" y2="71.8" stroke="#555" stroke-width="0.8" /><line x1="731.5" y1="104" x2="731.5" y2="106.2" stroke="#1e1e1e" stroke-width="1.4" /><line x1="731.5" y1="109" x2="731.5" y2="111.2" stroke="#1e1e1e" stroke-width="1.4" /><line x1="731.5" y1="114" x2="731.5" y2="116.2" stroke="#1e1e1e" stroke-width="1.4" /><line x1="731.5" y1="119" x2="731.5" y2="121.2" stroke="#1e1e1e" stroke-width="1.4" /><line x1="731.5" y1="124" x2="731.5" y2="126.2" stroke="#1e1e1e" stroke-width="1.4" /><line x1="731.5" y1="129" x2="731.5" y2="131.2" stroke="#1e1e1e" stroke-width="1.4" /><line x1="731.5" y1="134" x2="731.5" y2="136.2" stroke="#1e1e1e" stroke-width="1.4" /><line x1="731.5" y1="139" x2="731.5" y2="141.2" stroke="#1e1e1e" stroke-width="1.4" /><line x1="731.5" y1="144" x2="731.5" y2="146.2" stroke="#1e1e1e" stroke-width="1.4" /><line x1="731.5" y1="149" x2="731.5" y2="151.2" stroke="#1e1e1e" stroke-width="1.4" /><line x1="731.5" y1="154" x2="731.5" y2="156.2" stroke="#1e1e1e" stroke-width="1.4" /><line x1="731.5" y1="159" x2="731.5" y2="161.2" stroke="#1e1e1e" stroke-width="1.4" /><line x1="731.5" y1="164" x2="731.5" y2="166.2" stroke="#1e1e1e" stroke-width="1.4" /><line x1="731.5" y1="169" x2="731.5" y2="171.2" stroke="#1e1e1e" stroke-width="1.4" /><rect x="811" y="81" width="12" height="37" rx="6" stroke="#1e1e1e" stroke-width="1.1" fill="none"/><path d="M729.3 79.5 L725.1 79.5 Q722.5 79.5 722.5 82.1 L722.5 90.5 Q722.5 93.1 725.1 93.1 L729.3 93.1 Z" stroke="#1e1e1e" stroke-width="1.1" fill="none" /><line x1="722.5" y1="86.3" x2="729.3" y2="86.3" stroke="#555" stroke-width="0.8" /><path d="M735.5 79.5 L740.7 79.5 Q743.3 79.5 743.3 82.1 L743.3 90.5 Q743.3 93.1 740.7 93.1 L735.5 93.1 Z" stroke="#1e1e1e" stroke-width="1.3" fill="none" /><line x1="735.5" y1="86.3" x2="743.3" y2="86.3" stroke="#555" stroke-width="0.8" /><line x1="741.8" y1="80.5" x2="741.8" y2="92" stroke="#1e1e1e" stroke-width="1.4" /><path d="M729.3 139 L725.1 139 Q722.5 139 722.5 141.6 L722.5 150.4 Q722.5 153 725.1 153 L729.3 153 Z" stroke="#1e1e1e" stroke-width="1.2" fill="none" /><line x1="722.5" y1="146" x2="729.3" y2="146" stroke="#555" stroke-width="0.8" /><path d="M736.5 139.5 L746.1 139.5 Q748.7 139.5 748.7 142.1 L748.7 149.9 Q748.7 152.5 746.1 152.5 L736.5 152.5 Z" stroke="#1e1e1e" stroke-width="1.2" fill="none" /><line x1="736.5" y1="146" x2="748.7" y2="146" stroke="#555" stroke-width="0.8" /><line x1="741" y1="140" x2="741" y2="152" stroke="#555" stroke-width="0.7" /><path d="M729.3 153 L725.1 153 Q722.5 153 722.5 155.6 L722.5 166.4 Q722.5 169 725.1 169 L729.3 169 Z" stroke="#1e1e1e" stroke-width="1.2" fill="none" /><line x1="722.5" y1="161" x2="729.3" y2="161" stroke="#555" stroke-width="0.8" /><path d="M736.5 153.5 L746.1 153.5 Q748.7 153.5 748.7 156.1 L748.7 165.9 Q748.7 168.5 746.1 168.5 L736.5 168.5 Z" stroke="#1e1e1e" stroke-width="1.2" fill="none" /><line x1="736.5" y1="161" x2="748.7" y2="161" stroke="#555" stroke-width="0.8" /><line x1="741" y1="154" x2="741" y2="168" stroke="#555" stroke-width="0.7" /><path d="M729.3 169 L725.1 169 Q722.5 169 722.5 171.6 L722.5 180.2 Q722.5 182.8 725.1 182.8 L729.3 182.8 Z" stroke="#1e1e1e" stroke-width="1.2" fill="none" /><line x1="722.5" y1="175.9" x2="729.3" y2="175.9" stroke="#555" stroke-width="0.8" /><path d="M736.5 169.5 L746.1 169.5 Q748.7 169.5 748.7 172.1 L748.7 179.7 Q748.7 182.3 746.1 182.3 L736.5 182.3 Z" stroke="#1e1e1e" stroke-width="1.2" fill="none" /><line x1="736.5" y1="175.9" x2="748.7" y2="175.9" stroke="#555" stroke-width="0.8" /><line x1="741" y1="170" x2="741" y2="181.8" stroke="#555" stroke-width="0.7" /><rect x="748.7" y="156.5" width="1.8" height="9" rx="0" stroke="#555" stroke-width="0.8" fill="none"/><line x1="733.5" y1="140" x2="733.5" y2="142" stroke="#1e1e1e" stroke-width="1.5" /><line x1="733.5" y1="144" x2="733.5" y2="146" stroke="#1e1e1e" stroke-width="1.5" /><line x1="733.5" y1="148" x2="733.5" y2="150" stroke="#1e1e1e" stroke-width="1.5" /><line x1="733.5" y1="152" x2="733.5" y2="154" stroke="#1e1e1e" stroke-width="1.5" /><line x1="733.5" y1="156" x2="733.5" y2="158" stroke="#1e1e1e" stroke-width="1.5" /><line x1="733.5" y1="160" x2="733.5" y2="162" stroke="#1e1e1e" stroke-width="1.5" /><line x1="733.5" y1="164" x2="733.5" y2="166" stroke="#1e1e1e" stroke-width="1.5" /><line x1="733.5" y1="168" x2="733.5" y2="170" stroke="#1e1e1e" stroke-width="1.5" /><line x1="733.5" y1="172" x2="733.5" y2="174" stroke="#1e1e1e" stroke-width="1.5" /><line x1="733.5" y1="176" x2="733.5" y2="178" stroke="#1e1e1e" stroke-width="1.5" /><line x1="733.5" y1="180" x2="733.5" y2="182" stroke="#1e1e1e" stroke-width="1.5" /><rect x="737.3" y="133.7" width="12.6" height="2.7" rx="0" stroke="#555" stroke-width="0.9" fill="none"/><rect x="738" y="183" width="12" height="5.5" rx="0" stroke="#555" stroke-width="0.9" fill="none"/><line x1="749" y1="149.3" x2="766.7" y2="149.3" stroke="#555" stroke-width="0.8" /><line x1="749" y1="153.1" x2="766.7" y2="153.1" stroke="#555" stroke-width="0.8" /><line x1="749" y1="167.6" x2="766.7" y2="167.6" stroke="#555" stroke-width="0.8" /><line x1="749" y1="170" x2="766.7" y2="170" stroke="#555" stroke-width="0.8" /><line x1="766.7" y1="119.5" x2="930" y2="119.5" stroke="#1e1e1e" stroke-width="1.3" /><line x1="766.7" y1="122.3" x2="930" y2="122.3" stroke="#1e1e1e" stroke-width="0.8" /><line x1="766.7" y1="185.3" x2="930" y2="185.3" stroke="#1e1e1e" stroke-width="1.2" /><line x1="766.7" y1="187.4" x2="930" y2="187.4" stroke="#1e1e1e" stroke-width="0.9" /><line x1="766.7" y1="119.5" x2="766.7" y2="187.4" stroke="#1e1e1e" stroke-width="1.1" /><rect x="779.9" y="133.2" width="10.8" height="41.3" rx="5.4" stroke="#333" stroke-width="1" fill="none"/><rect x="808.9" y="133.2" width="10.8" height="41.3" rx="5.4" stroke="#333" stroke-width="1" fill="none"/><rect x="837.7" y="133.2" width="10.8" height="41.3" rx="5.4" stroke="#333" stroke-width="1" fill="none"/><rect x="866.7" y="133.2" width="10.8" height="41.3" rx="5.4" stroke="#333" stroke-width="1" fill="none"/><rect x="797.7" y="182.6" width="9.9" height="5.3" rx="0" stroke="#555" stroke-width="0.9" fill="none"/><line x1="733" y1="189.3" x2="861.3" y2="189.3" stroke="#1e1e1e" stroke-width="1.1" /><line x1="733" y1="191" x2="861.3" y2="191" stroke="#1e1e1e" stroke-width="1.3" /><rect x="733" y="189.3" width="128.3" height="1.7" rx="0" stroke="#1e1e1e" stroke-width="0" fill="#bbb"/><path d="M690 209.5 Q703 190.5 733 189.5" stroke="#1e1e1e" stroke-width="1.2" fill="none" /><path d="M693.3 209.5 Q705.5 192 733 191" stroke="#555" stroke-width="1" fill="none" /><path d="M696.5 209.5 Q708 193.5 733 192.3" stroke="#1e1e1e" stroke-width="1" fill="none" /><path d="M746.3 209.5 Q751.01 196.9 762 191.5" stroke="#1e1e1e" stroke-width="1.3" fill="none" /><path d="M748.5 209.5 Q753.15 196.9 764 191.5" stroke="#555" stroke-width="0.8" fill="none" /><path d="M858.9 209.5 Q853.83 196.9 842 191.5" stroke="#1e1e1e" stroke-width="1.3" fill="none" /><path d="M856.7 209.5 Q851.69 196.9 840 191.5" stroke="#555" stroke-width="0.8" fill="none" /><line x1="763.8" y1="191" x2="763.8" y2="209.5" stroke="#555" stroke-width="0.9" /><line x1="767.3" y1="191" x2="767.3" y2="209.5" stroke="#555" stroke-width="0.9" /><line x1="795.3" y1="191" x2="795.3" y2="209.5" stroke="#555" stroke-width="0.9" /><line x1="809.3" y1="191" x2="809.3" y2="209.5" stroke="#555" stroke-width="0.9" /><line x1="838.5" y1="191" x2="838.5" y2="209.5" stroke="#555" stroke-width="0.9" /><line x1="842" y1="191" x2="842" y2="209.5" stroke="#555" stroke-width="0.9" /><rect x="800.6" y="191" width="3.5" height="18.5" rx="0" stroke="#1e1e1e" stroke-width="1.5" fill="none"/><path d="M767.3 191 Q770 201.6 776 201.6 L795.3 201.6" stroke="#1e1e1e" stroke-width="1.1" fill="none" /><path d="M836.2 191 Q834 201.6 828 201.6 L809.3 201.6" stroke="#1e1e1e" stroke-width="1.1" fill="none" /><line x1="779.8" y1="201.6" x2="779.8" y2="209.5" stroke="#555" stroke-width="0.8" /><line x1="824.8" y1="201.6" x2="824.8" y2="209.5" stroke="#555" stroke-width="0.8" /><path d="M781 209.5 Q782 206.7 785 206.7 Q788 206.7 789 209.5" stroke="#1e1e1e" stroke-width="1" fill="none" /><path d="M815.5 209.5 Q816.5 206.7 819.5 206.7 Q822.5 206.7 823.5 209.5" stroke="#1e1e1e" stroke-width="1" fill="none" /><path d="M861.3 189 L861.3 199.3 Q861.3 203.3 865.3 203.3 L930 203.3" stroke="#555" stroke-width="1" fill="none" /><line x1="861.3" y1="193.3" x2="930" y2="193.3" stroke="#555" stroke-width="0.8" /><line x1="861.3" y1="189.2" x2="930" y2="189.2" stroke="#333" stroke-width="1" /><line x1="902" y1="203.3" x2="907.5" y2="209.5" stroke="#1e1e1e" stroke-width="0.9" /><line x1="904.5" y1="203.3" x2="910" y2="209.5" stroke="#1e1e1e" stroke-width="0.9" /><line x1="906.5" y1="203.3" x2="912" y2="209.5" stroke="#1e1e1e" stroke-width="0.9" /></g>
<rect x="909" y="139.8" width="42.6" height="4" rx="2" stroke="#1e1e1e" stroke-width="1" fill="none"/>
<rect x="909" y="163.1" width="42.6" height="4" rx="2" stroke="#1e1e1e" stroke-width="1" fill="none"/>
<rect x="926" y="182.5" width="8" height="4.8" rx="0" stroke="#555" stroke-width="0.9" fill="none"/>
<line x1="779.9" y1="149.3" x2="790.7" y2="149.3" stroke="#555" stroke-width="0.9" />
<line x1="779.9" y1="153.8" x2="790.7" y2="153.8" stroke="#555" stroke-width="0.9" />
<line x1="779.9" y1="168.2" x2="790.7" y2="168.2" stroke="#555" stroke-width="0.8" />
<line x1="808.9" y1="149.3" x2="819.7" y2="149.3" stroke="#555" stroke-width="0.9" />
<line x1="808.9" y1="153.8" x2="819.7" y2="153.8" stroke="#555" stroke-width="0.9" />
<line x1="808.9" y1="168.2" x2="819.7" y2="168.2" stroke="#555" stroke-width="0.8" />
<line x1="1069.3" y1="149.3" x2="1080.1" y2="149.3" stroke="#555" stroke-width="0.9" />
<line x1="1069.3" y1="153.8" x2="1080.1" y2="153.8" stroke="#555" stroke-width="0.9" />
<line x1="1069.3" y1="168.2" x2="1080.1" y2="168.2" stroke="#555" stroke-width="0.8" />
<rect x="813" y="163.5" width="6.5" height="6.5" rx="0" stroke="#555" stroke-width="0.8" fill="none"/>
<line x1="837.7" y1="140.5" x2="848.5" y2="140.5" stroke="#8a8a8a" stroke-width="0.8" />
<line x1="837.7" y1="144.2" x2="848.5" y2="144.2" stroke="#1e1e1e" stroke-width="1" />
<line x1="866.7" y1="140.5" x2="877.5" y2="140.5" stroke="#8a8a8a" stroke-width="0.8" />
<line x1="866.7" y1="144.2" x2="877.5" y2="144.2" stroke="#1e1e1e" stroke-width="1" />
<line x1="982.5" y1="140.5" x2="993.3" y2="140.5" stroke="#8a8a8a" stroke-width="0.8" />
<line x1="982.5" y1="144.2" x2="993.3" y2="144.2" stroke="#1e1e1e" stroke-width="1" />
<line x1="1011.5" y1="140.5" x2="1022.3" y2="140.5" stroke="#8a8a8a" stroke-width="0.8" />
<line x1="1011.5" y1="144.2" x2="1022.3" y2="144.2" stroke="#1e1e1e" stroke-width="1" />
<line x1="1040.3" y1="140.5" x2="1051.1" y2="140.5" stroke="#8a8a8a" stroke-width="0.8" />
<line x1="1040.3" y1="144.2" x2="1051.1" y2="144.2" stroke="#1e1e1e" stroke-width="1" />
<line x1="733" y1="386.1" x2="1134" y2="386.1" stroke="#1e1e1e" stroke-width="1" />
<line x1="732.4" y1="386" x2="732.4" y2="536" stroke="#8a8a8a" stroke-width="0.8" />
<line x1="735.3" y1="386" x2="735.3" y2="510" stroke="#8a8a8a" stroke-width="0.8" />
<line x1="737.9" y1="386" x2="737.9" y2="515" stroke="#555" stroke-width="0.9" />
<line x1="1128.6" y1="386" x2="1128.6" y2="515" stroke="#555" stroke-width="0.9" />
<line x1="1130.8" y1="386" x2="1130.8" y2="510" stroke="#8a8a8a" stroke-width="0.8" />
<line x1="1134.2" y1="386" x2="1134.2" y2="536" stroke="#8a8a8a" stroke-width="0.8" />
<rect x="732.7" y="385.6" width="2.3" height="2" rx="0" stroke="#1e1e1e" stroke-width="0" fill="#111"/>
<rect x="1131.8" y="385.6" width="2.3" height="2" rx="0" stroke="#1e1e1e" stroke-width="0" fill="#111"/>
<rect x="732.7" y="389" width="2.3" height="2" rx="0" stroke="#1e1e1e" stroke-width="0" fill="#111"/>
<rect x="1131.8" y="389" width="2.3" height="2" rx="0" stroke="#1e1e1e" stroke-width="0" fill="#111"/>
<rect x="732.7" y="393.2" width="2.3" height="2" rx="0" stroke="#1e1e1e" stroke-width="0" fill="#111"/>
<rect x="1131.8" y="393.2" width="2.3" height="2" rx="0" stroke="#1e1e1e" stroke-width="0" fill="#111"/>
<rect x="732.7" y="396.6" width="2.3" height="2" rx="0" stroke="#1e1e1e" stroke-width="0" fill="#111"/>
<rect x="1131.8" y="396.6" width="2.3" height="2" rx="0" stroke="#1e1e1e" stroke-width="0" fill="#111"/>
<rect x="732.7" y="400" width="2.3" height="2" rx="0" stroke="#1e1e1e" stroke-width="0" fill="#111"/>
<rect x="1131.8" y="400" width="2.3" height="2" rx="0" stroke="#1e1e1e" stroke-width="0" fill="#111"/>
<rect x="732.7" y="408" width="2.3" height="2" rx="0" stroke="#1e1e1e" stroke-width="0" fill="#111"/>
<rect x="1131.8" y="408" width="2.3" height="2" rx="0" stroke="#1e1e1e" stroke-width="0" fill="#111"/>
<rect x="732.7" y="416.6" width="2.3" height="2" rx="0" stroke="#1e1e1e" stroke-width="0" fill="#111"/>
<rect x="1131.8" y="416.6" width="2.3" height="2" rx="0" stroke="#1e1e1e" stroke-width="0" fill="#111"/>
<rect x="732.7" y="427" width="2.3" height="2" rx="0" stroke="#1e1e1e" stroke-width="0" fill="#111"/>
<rect x="1131.8" y="427" width="2.3" height="2" rx="0" stroke="#1e1e1e" stroke-width="0" fill="#111"/>
<rect x="732.7" y="437.8" width="2.3" height="2" rx="0" stroke="#1e1e1e" stroke-width="0" fill="#111"/>
<rect x="1131.8" y="437.8" width="2.3" height="2" rx="0" stroke="#1e1e1e" stroke-width="0" fill="#111"/>
<rect x="732.7" y="448.6" width="2.3" height="2" rx="0" stroke="#1e1e1e" stroke-width="0" fill="#111"/>
<rect x="1131.8" y="448.6" width="2.3" height="2" rx="0" stroke="#1e1e1e" stroke-width="0" fill="#111"/>
<rect x="732.7" y="459.7" width="2.3" height="2" rx="0" stroke="#1e1e1e" stroke-width="0" fill="#111"/>
<rect x="1131.8" y="459.7" width="2.3" height="2" rx="0" stroke="#1e1e1e" stroke-width="0" fill="#111"/>
<rect x="732.7" y="470.5" width="2.3" height="2" rx="0" stroke="#1e1e1e" stroke-width="0" fill="#111"/>
<rect x="1131.8" y="470.5" width="2.3" height="2" rx="0" stroke="#1e1e1e" stroke-width="0" fill="#111"/>
<rect x="732.7" y="480.5" width="2.3" height="2" rx="0" stroke="#1e1e1e" stroke-width="0" fill="#111"/>
<rect x="1131.8" y="480.5" width="2.3" height="2" rx="0" stroke="#1e1e1e" stroke-width="0" fill="#111"/>
<rect x="732.7" y="491.3" width="2.3" height="2" rx="0" stroke="#1e1e1e" stroke-width="0" fill="#111"/>
<rect x="1131.8" y="491.3" width="2.3" height="2" rx="0" stroke="#1e1e1e" stroke-width="0" fill="#111"/>
<rect x="732.7" y="504.2" width="2.3" height="2" rx="0" stroke="#1e1e1e" stroke-width="0" fill="#111"/>
<rect x="1131.8" y="504.2" width="2.3" height="2" rx="0" stroke="#1e1e1e" stroke-width="0" fill="#111"/>
<path d="M735.5 510 L735.5 536 Q735.5 541.7 741 541.7 L1125.5 541.7 Q1131 541.7 1131 536 L1131 510" stroke="#1e1e1e" stroke-width="1" fill="none" />
<path d="M738.5 515 L738.5 533.5 Q738.5 537.4 742 537.4 L1124.5 537.4 Q1128.2 537.4 1128.2 533.5 L1128.2 515" stroke="#555" stroke-width="0.9" fill="none" />
<rect x="735.5" y="510" width="3" height="5" rx="0" stroke="#555" stroke-width="0.7" fill="none"/>
<rect x="1128.2" y="510" width="3" height="5" rx="0" stroke="#555" stroke-width="0.7" fill="none"/>
<line x1="733" y1="461" x2="1133" y2="461" stroke="#1e1e1e" stroke-width="1" stroke-dasharray="18 1.3 1.5 1.3"/>
<line x1="933.3" y1="384" x2="933.3" y2="541" stroke="#1e1e1e" stroke-width="0.9" stroke-dasharray="18 1.3 1.5 1.3"/>
<path d="M806.9 405.5 L833.5 405.5 A5.6 5.6 0 0 1 833.5 416.7 L806.9 416.7 A5.6 5.6 0 0 1 806.9 405.5" stroke="#444" stroke-width="1" fill="none" />
<line x1="807.3" y1="404.1" x2="807.3" y2="418.1" stroke="#1e1e1e" stroke-width="1" />
<line x1="832.6" y1="404.1" x2="832.6" y2="418.1" stroke="#1e1e1e" stroke-width="1" />
<line x1="800.3" y1="411.1" x2="840.1" y2="411.1" stroke="#1e1e1e" stroke-width="1" stroke-dasharray="14 10"/>
<path d="M1033 405.5 L1060.7 405.5 A5.6 5.6 0 0 1 1060.7 416.7 L1033 416.7 A5.6 5.6 0 0 1 1033 405.5" stroke="#444" stroke-width="1" fill="none" />
<line x1="1033.4" y1="404.1" x2="1033.4" y2="418.1" stroke="#1e1e1e" stroke-width="1" />
<line x1="1059.8" y1="404.1" x2="1059.8" y2="418.1" stroke="#1e1e1e" stroke-width="1" />
<line x1="1026.4" y1="411.1" x2="1067.3" y2="411.1" stroke="#1e1e1e" stroke-width="1" stroke-dasharray="14 10"/>
<path d="M813.8 499.1 L813.8 523.8 A6.3 6.3 0 0 0 826.4 523.8 L826.4 499.1 A6.3 6.3 0 0 0 813.8 499.1" stroke="#444" stroke-width="1" fill="none" />
<line x1="812.6" y1="499.3" x2="827.6" y2="499.3" stroke="#1e1e1e" stroke-width="1" />
<line x1="812.6" y1="523.6" x2="827.6" y2="523.6" stroke="#1e1e1e" stroke-width="1" />
<line x1="820.1" y1="491.8" x2="820.1" y2="531.1" stroke="#1e1e1e" stroke-width="1" stroke-dasharray="13 10"/>
<path d="M1040.4 498.7 L1040.4 523.8 A6.3 6.3 0 0 0 1053 523.8 L1053 498.7 A6.3 6.3 0 0 0 1040.4 498.7" stroke="#444" stroke-width="1" fill="none" />
<line x1="1039.2" y1="498.9" x2="1054.2" y2="498.9" stroke="#1e1e1e" stroke-width="1" />
<line x1="1039.2" y1="523.6" x2="1054.2" y2="523.6" stroke="#1e1e1e" stroke-width="1" />
<line x1="1046.7" y1="491.4" x2="1046.7" y2="531.1" stroke="#1e1e1e" stroke-width="1" stroke-dasharray="13 10"/>
<line x1="777.4" y1="368" x2="1089.3" y2="368" stroke="#1e1e1e" stroke-width="1" />
<polygon points="802.4,368 790.4,370.3 790.4,365.7" fill="#1e1e1e"/>
<polygon points="1064.7,368 1076.7,365.7 1076.7,370.3" fill="#1e1e1e"/>
<line x1="802.4" y1="368" x2="802.4" y2="411" stroke="#1e1e1e" stroke-width="1" />
<line x1="1064.7" y1="368" x2="1064.7" y2="411" stroke="#1e1e1e" stroke-width="1" />
<text x="934.3" y="364.6" font-size="17.2" text-anchor="middle" fill="#111" stroke="#111" stroke-width="0.25" style="">209</text>
<line x1="710.2" y1="405.4" x2="710.2" y2="530.1" stroke="#1e1e1e" stroke-width="1" />
<polygon points="710.2,405.4 712.5,417.4 707.9,417.4" fill="#1e1e1e"/>
<polygon points="710.2,530.1 707.9,518.1 712.5,518.1" fill="#1e1e1e"/>
<line x1="708" y1="405.4" x2="807" y2="405.4" stroke="#1e1e1e" stroke-width="1" />
<line x1="708" y1="530.1" x2="820" y2="530.1" stroke="#1e1e1e" stroke-width="1" />
<text x="706.5" y="463.7" font-size="17.2" text-anchor="middle" fill="#111" stroke="#111" stroke-width="0.25" style="" transform="rotate(-90 706.5 463.7)">99</text>
<line x1="1162.2" y1="469.8" x2="1162.2" y2="554.3" stroke="#1e1e1e" stroke-width="1" />
<polygon points="1162.2,492.4 1159.9,480.4 1164.5,480.4" fill="#1e1e1e"/>
<polygon points="1162.2,530.1 1164.5,542.1 1159.9,542.1" fill="#1e1e1e"/>
<line x1="1046.7" y1="492.4" x2="1165" y2="492.4" stroke="#1e1e1e" stroke-width="1" />
<line x1="1046.7" y1="530.1" x2="1165" y2="530.1" stroke="#1e1e1e" stroke-width="1" />
<text x="1158.8" y="511.6" font-size="17.2" text-anchor="middle" fill="#111" stroke="#111" stroke-width="0.25" style="" transform="rotate(-90 1158.8 511.6)">29</text>
<line x1="1016.9" y1="569.2" x2="1077.2" y2="569.2" stroke="#1e1e1e" stroke-width="1" />
<polygon points="1040.4,569.2 1028.4,571.5 1028.4,566.9" fill="#1e1e1e"/>
<polygon points="1053.1,569.2 1065.1,566.9 1065.1,571.5" fill="#1e1e1e"/>
<line x1="1040.4" y1="530" x2="1040.4" y2="571" stroke="#1e1e1e" stroke-width="1" />
<line x1="1053.1" y1="530" x2="1053.1" y2="571" stroke="#1e1e1e" stroke-width="1" />
<text x="1072.2" y="564.2" font-size="17.2" text-anchor="middle" fill="#111" stroke="#111" stroke-width="0.25" style="">9</text>
<text x="924.3" y="34.5" font-size="11.5" text-anchor="start" fill="#111" stroke="#111" stroke-width="0" style="font-style:italic;">A</text>
</svg></body></html>
